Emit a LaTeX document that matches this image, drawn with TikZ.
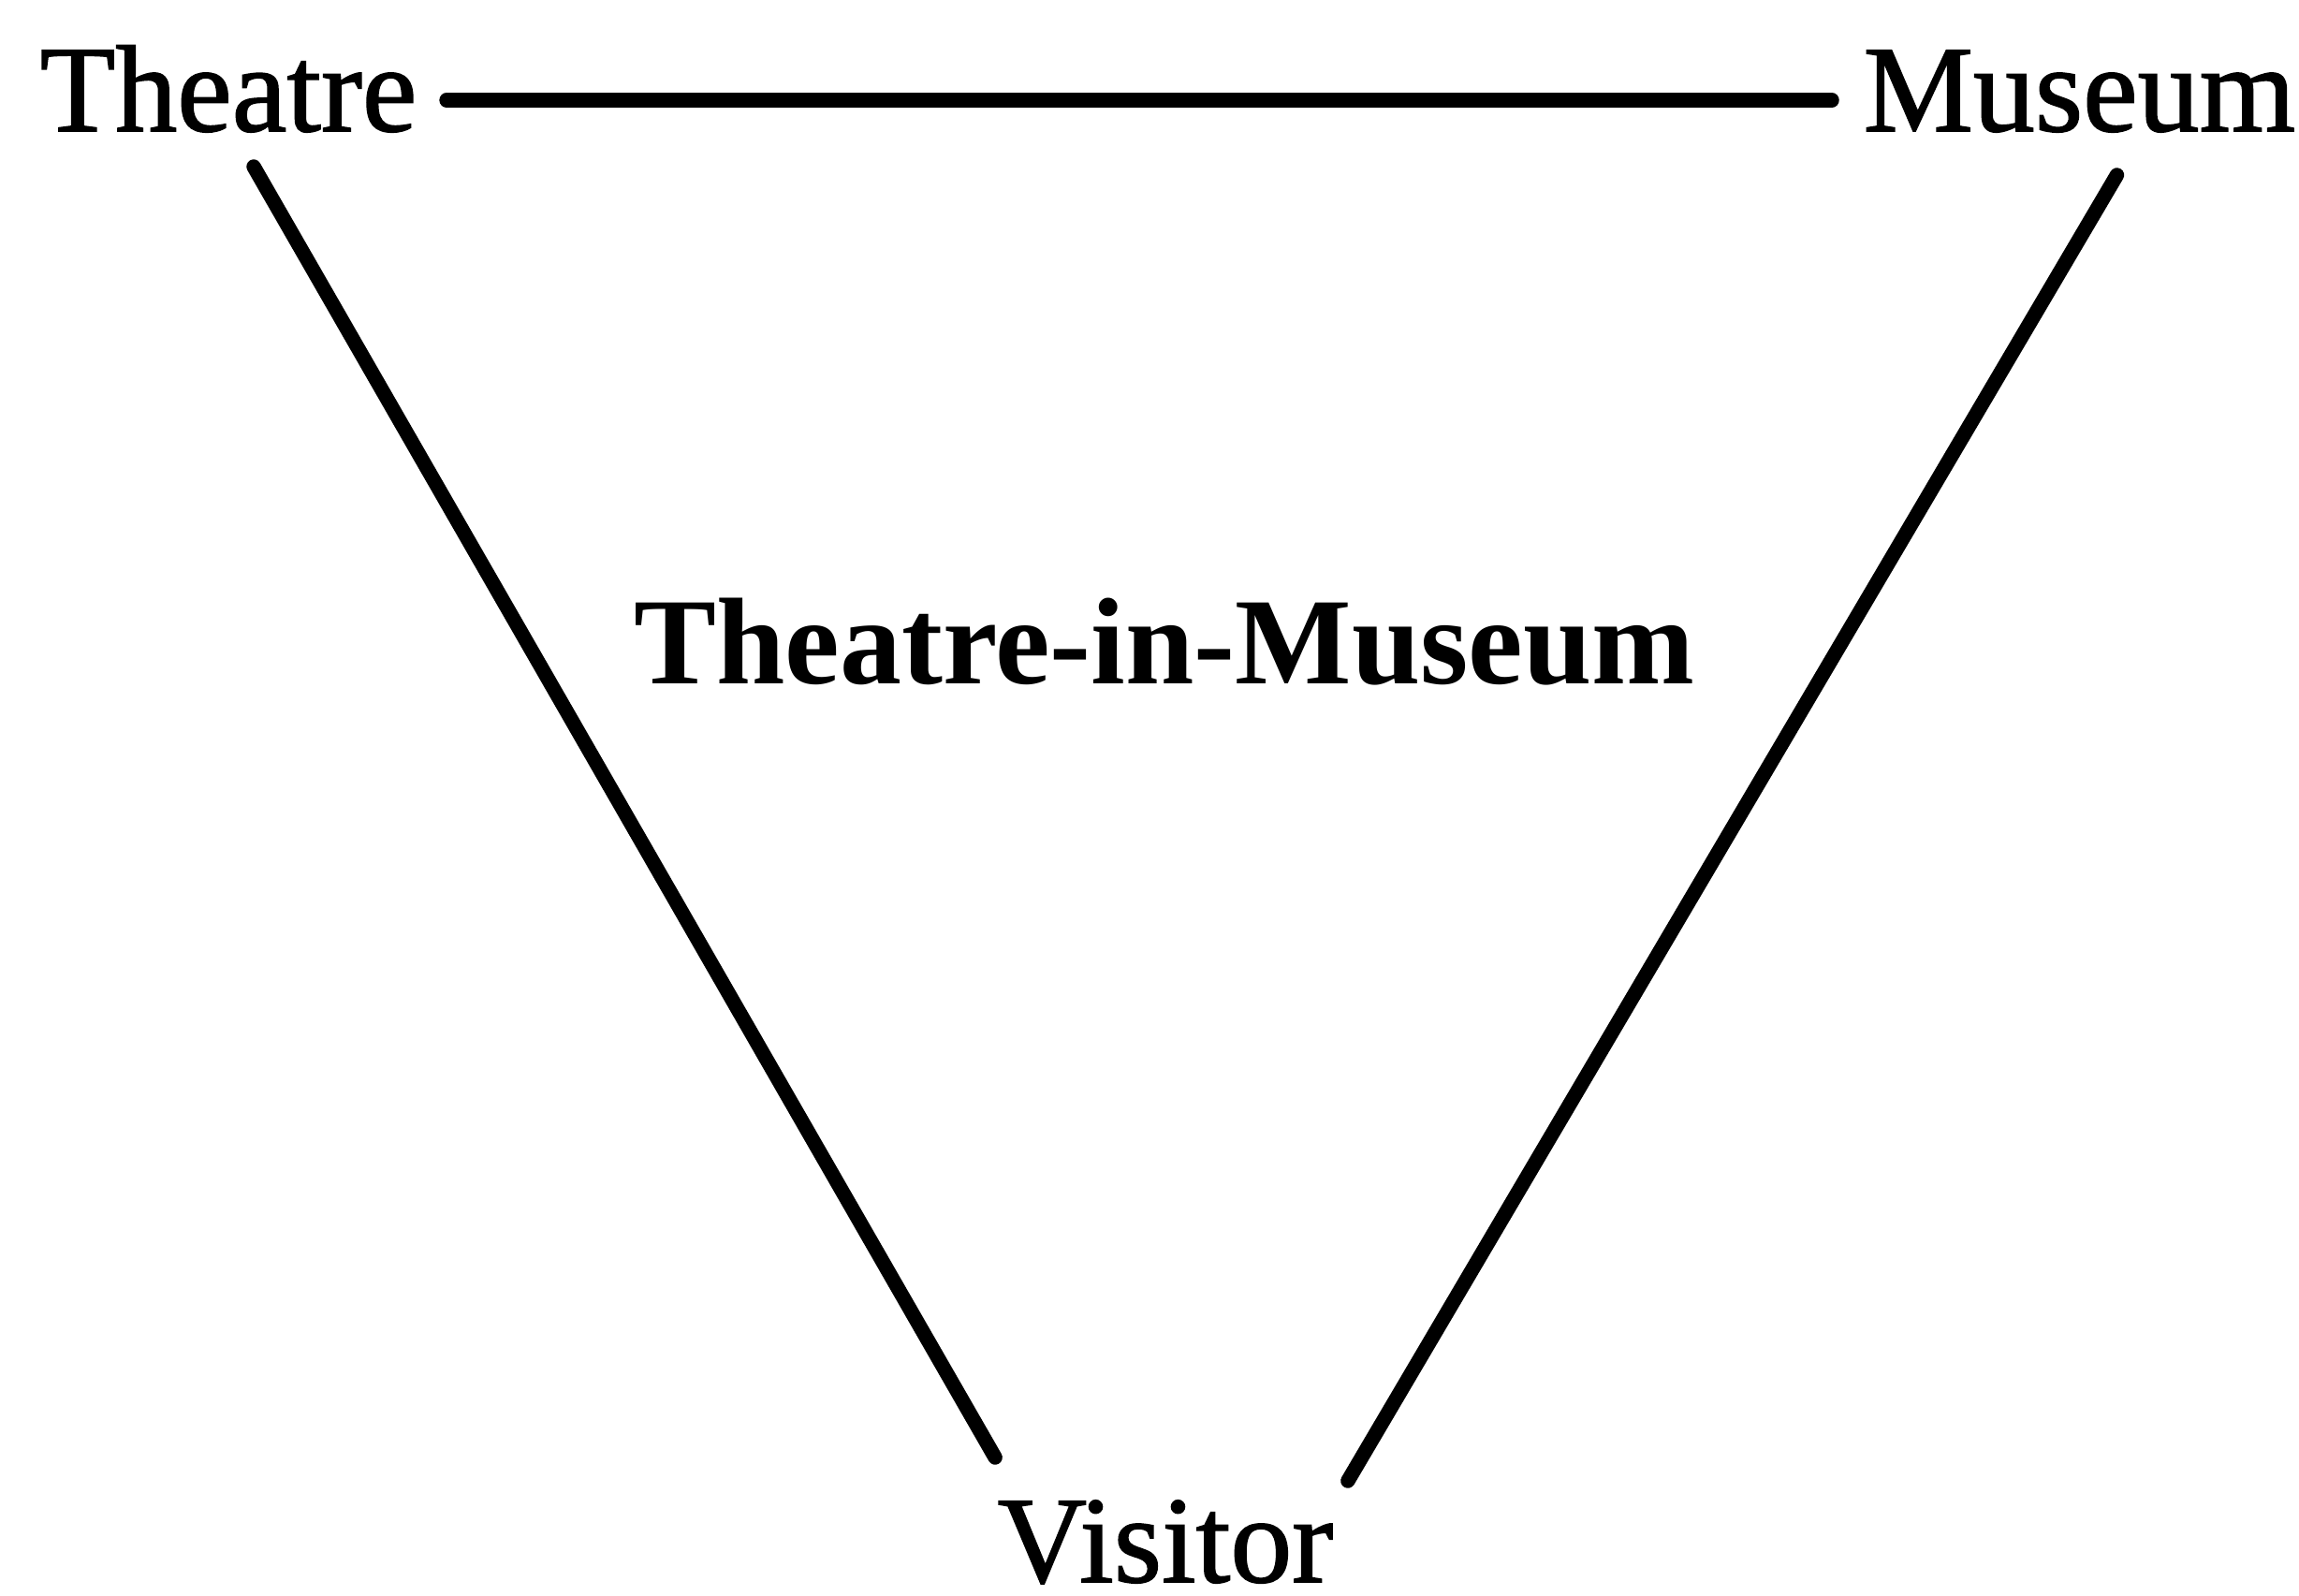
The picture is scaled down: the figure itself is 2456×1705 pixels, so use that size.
\documentclass[tikz,border=0pt]{standalone}
\usepackage{fontspec}
\setmainfont{Liberation Serif}
\newfontfamily\inkfont{Liberation Serif}[FakeBold=1.2]
\usetikzlibrary{calc}

\begin{document}
\begin{tikzpicture}[x=0.01cm,y=0.01cm,
    label/.style={inner sep=0pt,font=\fontsize{37.5}{45}\inkfont},
    link/.style={line width=4.4pt,line cap=round}]
  \useasboundingbox (0,0) rectangle (2456,-1705);

  \node[label,anchor=base west] (theatre) at (42,-140) {Theatre};
  \node[label,anchor=base west] (museum) at (1990,-140) {Museum};
  \node[label,anchor=base,font=\fontsize{37.5}{45}\selectfont\bfseries] (tim) at (1244,-730) {Theatre-in-Museum};
  \node[label,anchor=base] (visitor) at (1245,-1690) {Visitor};

  \draw[link] ($(theatre.base east)+(31,33)$) -- ($(museum.base west)+(-33,33)$);
  \draw[link] ($(theatre.base)+(27,-38)$) -- ($(visitor.north west)+(-2,45)$);
  \draw[link] ($(museum.base)+(40,-47)$) -- ($(visitor.north east)+(15,20)$);

\end{tikzpicture}
\end{document}
